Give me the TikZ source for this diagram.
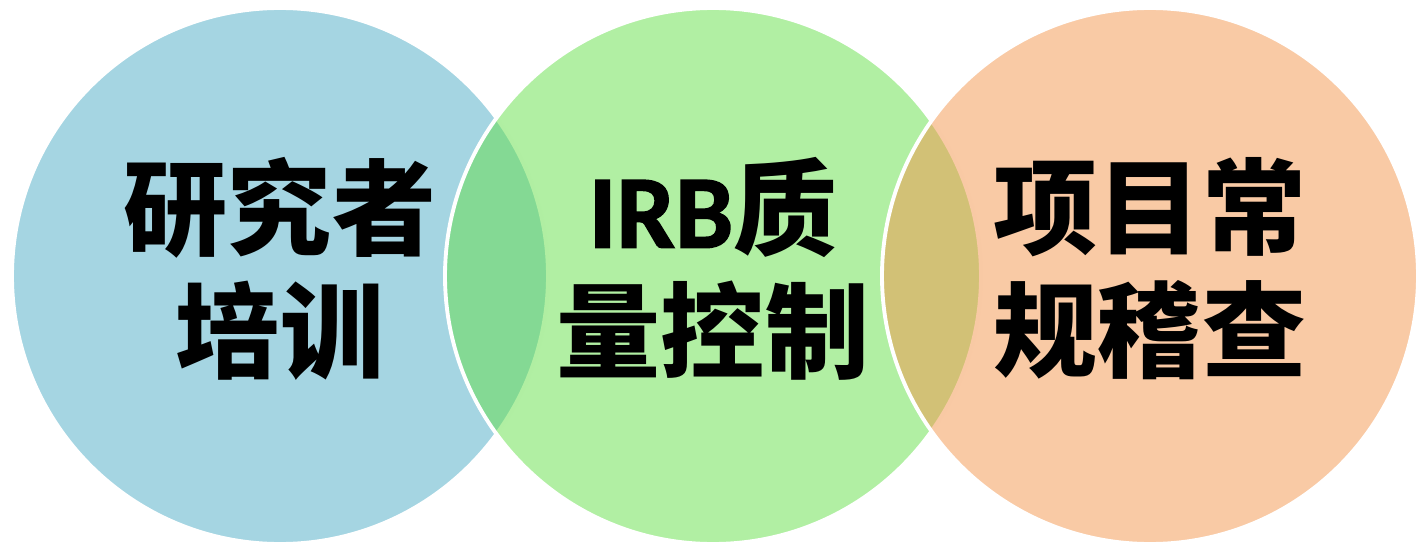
\documentclass[tikz,border=0pt]{standalone}
\usepackage{fontspec}
\newfontfamily\cjk{Noto Sans CJK SC}
\newfontfamily\latinb{Carlito Bold}[FakeBold=1.5]
\usepackage{tikz}
\usetikzlibrary{positioning}
\definecolor{venblue}{RGB}{75,171,197}
\definecolor{vengreen}{RGB}{99,223,71}
\definecolor{venorange}{RGB}{243,149,75}
\tikzset{
	venn/.style={circle,draw=white,line width=1.1pt,fill opacity=.5,minimum size=5.36cm,inner sep=0pt},
	vennlabel/.style={align=center,text=black,yshift=.07cm,font=\cjk\bfseries\fontsize{29.6}{35}\selectfont}
}

\begin{document}
\begin{tikzpicture}
		\useasboundingbox (0,0) rectangle (14.2,5.45);
		% Circles
		\foreach \cx/\col/\nm in {2.80/venblue/train,7.13/vengreen/irb,11.50/venorange/audit}{
			\node[venn,fill=\col] (\nm) at (\cx,2.69) {};
		}
		
		% Beschriftungen
		\node[vennlabel] (trainlbl) at (train.center) {研究者\\培训};
		\node[vennlabel] (irblbl) at (irb.center) {{\latinb IRB}质\\量控制};
		\node[vennlabel] (auditlbl) at (audit.center) {项目常\\规稽查};
	\end{tikzpicture}
\end{document}
